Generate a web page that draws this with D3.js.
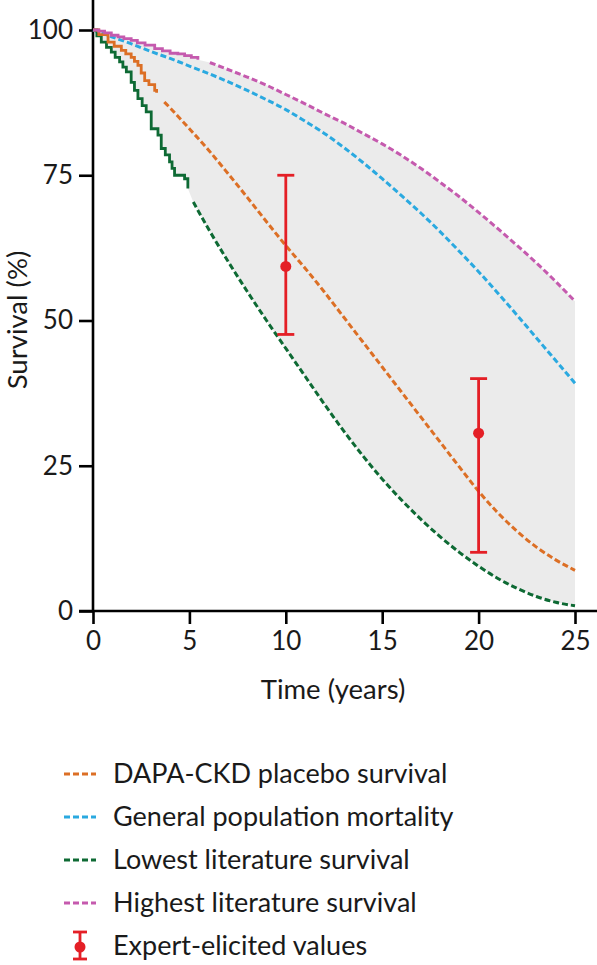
<!DOCTYPE html>
<html><head><meta charset="utf-8">
<script src="https://cdn.jsdelivr.net/npm/d3@7"></script>
<style>html,body{margin:0;padding:0;background:#fff;} svg{display:block;} text{font-family:Lato, "Noto Sans", sans-serif; fill:#1a1a1a;}</style>
</head><body><svg id="c" width="597" height="965"></svg>
<script>
// ---- data ----
const xTicks = [0, 5, 10, 15, 20, 25];
const yTicks = [0, 25, 50, 75, 100];
const dapaKM = [[0,100],[0.3,99.2],[0.78,97.9],[1.1,97.2],[1.47,96.5],[1.7,95.9],[1.98,95.3],[2.15,94.6],[2.33,93.9],[2.5,92.6],[2.68,91.3],[2.9,90.6],[3.2,89.6],[3.3,89.2]];
const dapaFit = [[3.7,87.6],[4,86.6],[4.5,84.8],[5,83.0],[6,79.3],[7,75.3],[8,71.2],[9,67.0],[10,62.9],[11,59.0],[12,54.9],[13,50.6],[14,46.3],[15,42.0],[16,37.7],[17,33.4],[18,29.1],[19,24.8],[20,20.6],[21,16.9],[22,13.7],[23,11.0],[24,8.8],[25,7.0]];
const genPop = [[0,100],[1,98.8],[2,97.6],[3,96.3],[4,95.1],[5,93.8],[6,92.5],[7,91.1],[8,89.6],[9,88.0],[10,86.3],[11,84.3],[12,82.2],[13,79.8],[14,77.2],[15,74.4],[16,71.5],[17,68.5],[18,65.3],[19,61.9],[20,58.4],[21,54.7],[22,50.9],[23,47.0],[24,43.1],[25,39.2]];
const lowKM = [[0,100],[0.2,99],[0.43,97.9],[0.7,97],[0.95,96.2],[1.15,95.3],[1.38,94.5],[1.55,93.6],[1.73,92.8],[1.98,91.0],[2.15,89.6],[2.33,88.2],[2.55,87],[2.76,85.9],[3.02,83],[3.37,81.9],[3.54,79.6],[3.75,78.5],[3.97,77.3],[4.1,76.2],[4.23,75.0],[4.75,74.4],[4.92,72.7]];
const lowFit = [[5.2,70.4],[6,65.7],[7,60.2],[8,55.0],[9,50.0],[10,45.2],[11,40.4],[12,35.6],[13,31.0],[14,26.7],[15,22.7],[16,19.1],[17,15.8],[18,12.8],[19,10.1],[20,7.7],[21,5.6],[22,3.9],[23,2.5],[24,1.5],[25,0.9]];
const highKM = [[0,100],[0.3,99.8],[0.6,99.5],[0.95,99.1],[1.3,98.8],[1.6,98.5],[1.98,98.2],[2.3,97.8],[2.7,97.4],[3.2,96.8],[3.6,96.4],[4.0,96.0],[4.4,95.9],[4.75,95.6],[5.1,95.3],[5.44,94.9]];
const highFit = [[6.06,94.4],[7,93.2],[8,91.9],[9,90.5],[10,88.9],[11,87.3],[12,85.6],[13,84.0],[14,82.2],[15,80.4],[16,78.4],[17,76.2],[18,73.8],[19,71.3],[20,68.6],[21,65.8],[22,62.9],[23,59.9],[24,56.7],[25,53.3]];
const expertTime = [10, 20];
const expertMid = [59.3, 30.6];
const expertLow = [47.6, 10.1];
const expertHigh = [75.0, 40.0];
const legendLabels = ["DAPA-CKD placebo survival","General population mortality","Lowest literature survival","Highest literature survival","Expert-elicited values"];
const colors = {dapa:"#dc6f25", gen:"#2aa9e0", low:"#0e6a34", high:"#c55aae", expert:"#e41f26"};

// ---- scales ----
const svg = d3.select("#c");
const x = d3.scaleLinear().domain([0,25]).range([93,575]);
const y = d3.scaleLinear().domain([0,100]).range([611,30]);

function stepPts(a){ const out=[a[0]]; for(let i=1;i<a.length;i++){ out.push([a[i][0],a[i-1][1]]); out.push(a[i]); } return out; }

// grey envelope
const poly = stepPts(highKM).concat(highFit, lowFit.slice().reverse(), stepPts(lowKM).reverse());
svg.append("path").attr("d", d3.line().x(d=>x(d[0])).y(d=>y(d[1]))(poly)+"Z").attr("fill","#ebebeb");

// axes
const gx = svg.append("g").attr("transform","translate(0,611)")
  .call(d3.axisBottom(x).tickValues(xTicks).tickSize(13).tickPadding(8).tickSizeOuter(0));
gx.select(".domain").remove();
gx.append("line").attr("x1",79).attr("x2",597).attr("stroke","#000").attr("stroke-width",2.6);
gx.selectAll(".tick line").attr("stroke","#000").attr("stroke-width",2.6);
gx.selectAll(".tick text").attr("font-size",26).attr("fill","#1a1a1a").attr("font-family","Lato");

const gy = svg.append("g").attr("transform","translate(93,0)")
  .call(d3.axisLeft(y).tickValues(yTicks).tickSize(14).tickPadding(6).tickSizeOuter(0));
gy.select(".domain").remove();
gy.append("line").attr("y1",0).attr("y2",611).attr("stroke","#000").attr("stroke-width",2.6);
gy.selectAll(".tick line").attr("stroke","#000").attr("stroke-width",2.6);
gy.selectAll(".tick text").attr("font-size",26).attr("fill","#1a1a1a").attr("font-family","Lato");

svg.append("text").attr("x",333).attr("y",699).attr("text-anchor","middle").attr("font-size",27.5).text("Time (years)");
svg.append("text").attr("transform","translate(27,320) rotate(-90)").attr("text-anchor","middle").attr("font-size",27.5).text("Survival (%)");

// lines
const lin = d3.line().x(d=>x(d[0])).y(d=>y(d[1])).curve(d3.curveMonotoneX);
const step = d3.line().x(d=>x(d[0])).y(d=>y(d[1])).curve(d3.curveStepAfter);
const dash = "6,3";
function dashed(data,c){ svg.append("path").attr("d",lin(data)).attr("fill","none").attr("stroke",c).attr("stroke-width",3).attr("stroke-dasharray",dash); }
function km(data,c){ svg.append("path").attr("d",step(data)).attr("fill","none").attr("stroke",c).attr("stroke-width",2.8); }
dashed(genPop, colors.gen);
dashed(highFit, colors.high);
dashed(lowFit, colors.low);
dashed(dapaFit, colors.dapa);
km(lowKM, colors.low);
km(dapaKM, colors.dapa);
km(highKM, colors.high);

// expert error bars
expertTime.forEach((t,i)=>{
  const g = svg.append("g").attr("stroke",colors.expert).attr("stroke-width",2.8);
  g.append("line").attr("x1",x(t)).attr("x2",x(t)).attr("y1",y(expertLow[i])).attr("y2",y(expertHigh[i]));
  g.append("line").attr("x1",x(t)-8.5).attr("x2",x(t)+8.5).attr("y1",y(expertLow[i])).attr("y2",y(expertLow[i]));
  g.append("line").attr("x1",x(t)-8.5).attr("x2",x(t)+8.5).attr("y1",y(expertHigh[i])).attr("y2",y(expertHigh[i]));
  svg.append("circle").attr("cx",x(t)).attr("cy",y(expertMid[i])).attr("r",5.5).attr("fill",colors.expert);
});

// legend
const lc = [colors.dapa, colors.gen, colors.low, colors.high];
legendLabels.forEach((lab,i)=>{
  const yy = 774 + i*43;
  if(i<4){
    svg.append("line").attr("x1",64).attr("x2",96).attr("y1",yy).attr("y2",yy).attr("stroke",lc[i]).attr("stroke-width",3).attr("stroke-dasharray","6,3");
  } else {
    const g = svg.append("g").attr("stroke",colors.expert).attr("stroke-width",2.8);
    g.append("line").attr("x1",80).attr("x2",80).attr("y1",yy-14).attr("y2",yy+13);
    g.append("line").attr("x1",73).attr("x2",87).attr("y1",yy-14).attr("y2",yy-14);
    g.append("line").attr("x1",73).attr("x2",87).attr("y1",yy+13).attr("y2",yy+13);
    svg.append("circle").attr("cx",80).attr("cy",yy+1).attr("r",5.5).attr("fill",colors.expert);
  }
  svg.append("text").attr("x",113).attr("y",yy).attr("dy","0.35em").attr("font-size",27).text(lab);
});
</script></body></html>
